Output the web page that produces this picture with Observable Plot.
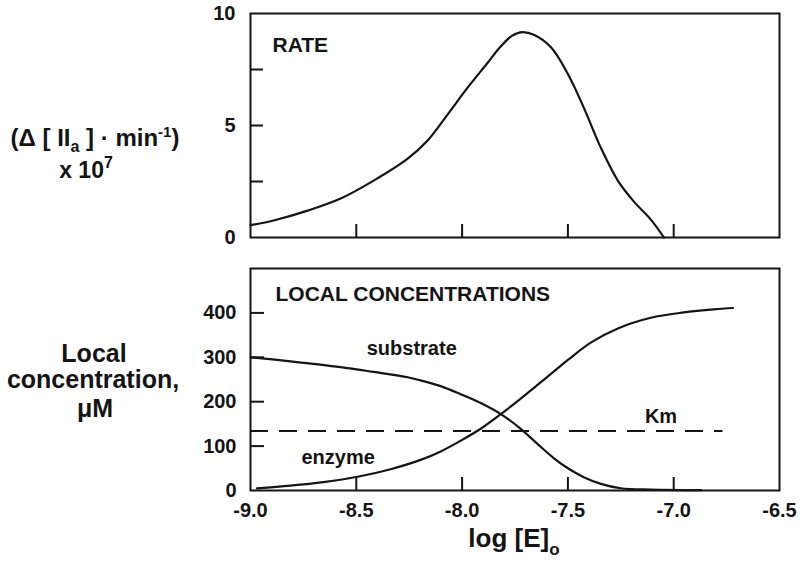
<!DOCTYPE html>
<html><head><meta charset="utf-8">
<script src="https://cdn.jsdelivr.net/npm/d3@7"></script>
<script src="https://cdn.jsdelivr.net/npm/@observablehq/plot@0.6"></script>
<style>
html,body{margin:0;padding:0;background:#fff;}
#chart{width:800px;height:566px;overflow:hidden;background:#fff}
#chart svg{display:block}
</style></head><body><div id="chart"></div>
<script>
// ---- data ----
const rateLogE  = [-9.0, -8.891, -8.730, -8.574, -8.418, -8.257, -8.163, -8.068, -7.973, -7.879, -7.820, -7.765, -7.715, -7.661, -7.581, -7.500, -7.425, -7.344, -7.264, -7.188, -7.108, -7.046];
const rateValue = [0.55, 0.76, 1.2, 1.74, 2.54, 3.52, 4.33, 5.5, 6.7, 7.8, 8.5, 9.0, 9.17, 9.05, 8.5, 7.3, 5.8, 4.0, 2.54, 1.6, 0.8, 0];

const substrateLogE  = [-9.0, -8.811, -8.574, -8.418, -8.257, -8.196, -8.101, -8.007, -7.912, -7.817, -7.723, -7.644, -7.567, -7.500, -7.425, -7.344, -7.250, -7.108, -6.871];
const substrateValue = [300, 291, 278, 267, 255, 248, 235, 217, 197, 172, 139, 105, 73, 50, 30, 15, 5, 2, 1];

const enzymeLogE  = [-8.97, -8.811, -8.655, -8.494, -8.338, -8.196, -8.101, -8.007, -7.912, -7.817, -7.723, -7.628, -7.549, -7.500, -7.392, -7.264, -7.108, -6.952, -6.810, -6.720];
const enzymeValue = [5, 11, 19, 31, 48, 69, 88, 112, 139, 172, 207, 244, 275, 294, 333, 365, 389, 401, 408, 411];

const kmValue = 134;
const kmExtent = [-9.0, -6.767];

const xTickLabels = [-9.0, -8.5, -8.0, -7.5, -7.0, -6.5];
const xInnerTicks = [-8.5, -8.0, -7.5, -7.0];
const rateTickLabels = [0, 5, 10];
const rateInnerTicks = [2.5, 5, 7.5];
const concTickLabels = [0, 100, 200, 300, 400];
const concInnerTicks = [100, 200, 300, 400];

const curveLabelText = ["substrate", "enzyme", "Km"];
const curveLabelLogE = [-8.238, -8.586, -7.06];
const curveLabelValue = [320, 75, 166];

// ---- tables ----
const rate = rateLogE.map((x, i) => ({x, y: rateValue[i]}));
const substrate = substrateLogE.map((x, i) => ({x, y: substrateValue[i]}));
const enzyme = enzymeLogE.map((x, i) => ({x, y: enzymeValue[i]}));
const curveLabels = curveLabelText.map((text, i) => ({text, x: curveLabelLogE[i], y: curveLabelValue[i]}));

const FONT = "'Liberation Sans', Arial, Helvetica, sans-serif";
const INK = "#141414";
const style = {fontFamily: FONT, fontSize: "20px", fontWeight: "bold", color: INK, background: "#fff", overflow: "visible"};

const topPlot = Plot.plot({
  width: 800, height: 250,
  marginLeft: 250, marginRight: 21, marginTop: 13, marginBottom: 13,
  x: {domain: [-9, -6.5], label: null},
  y: {domain: [0, 10], label: null},
  style,
  marks: [
    Plot.axisY(rateInnerTicks, {tickSize: -13, tickFormat: () => "", strokeWidth: 2, label: null}),
    Plot.axisY(rateTickLabels, {tickSize: 0, tickPadding: 15, label: null}),
    Plot.axisX(xInnerTicks, {tickSize: -13, tickFormat: () => "", strokeWidth: 2, label: null}),
    Plot.frame({stroke: INK, strokeWidth: 2}),
    Plot.line(rate, {x: "x", y: "y", curve: "catmull-rom", stroke: INK, strokeWidth: 2.2}),
    Plot.text(["RATE"], {frameAnchor: "top-left", dx: 22, dy: 24, textAnchor: "start", fontSize: 21, fontWeight: "bold", fill: INK})
  ]
});

const bottomPlot = Plot.plot({
  width: 800, height: 316,
  marginLeft: 250, marginRight: 21, marginTop: 18, marginBottom: 76,
  x: {domain: [-9, -6.5], label: null},
  y: {domain: [0, 500], label: null},
  style,
  marks: [
    Plot.axisY(concInnerTicks, {tickSize: -14, tickFormat: () => "", strokeWidth: 2, label: null}),
    Plot.axisY(concTickLabels, {tickSize: 0, tickPadding: 14, label: null}),
    Plot.axisX(xInnerTicks, {tickSize: -13, tickFormat: () => "", strokeWidth: 2, label: null}),
    Plot.axisX(xTickLabels, {tickSize: 0, tickPadding: 12, tickFormat: d => d.toFixed(1), label: null}),
    Plot.frame({stroke: INK, strokeWidth: 2}),
    Plot.ruleY([kmValue], {x1: kmExtent[0], x2: kmExtent[1], stroke: INK, strokeWidth: 2.2, strokeDasharray: "18,11"}),
    Plot.line(substrate, {x: "x", y: "y", curve: "catmull-rom", stroke: INK, strokeWidth: 2.2}),
    Plot.line(enzyme, {x: "x", y: "y", curve: "catmull-rom", stroke: INK, strokeWidth: 2.2}),
    Plot.text(["LOCAL CONCENTRATIONS"], {frameAnchor: "top-left", dx: 25, dy: 18, textAnchor: "start", fontSize: 21, fontWeight: "bold", fill: INK}),
    Plot.text(curveLabels, {x: "x", y: "y", text: "text", textAnchor: "middle", fontSize: 20, fontWeight: "bold", fill: INK})
  ]
});

// ---- side titles with sub/superscripts ----
function addText(svg, x, y, parts, size) {
  const t = d3.select(svg).append("text")
    .attr("x", x).attr("y", y).attr("text-anchor", "middle")
    .attr("font-family", FONT).attr("font-size", size).attr("font-weight", "bold").attr("fill", INK);
  for (const p of parts) {
    const s = t.append("tspan").text(p.t);
    if (p.dy) s.attr("dy", p.dy);
    if (p.size) s.attr("font-size", p.size);
  }
  return t;
}

addText(topPlot, 95, 146, [
  {t: "(Δ [ II"}, {t: "a", size: 16, dy: 6}, {t: " ] · min", dy: -6},
  {t: "-1", size: 15, dy: -9}, {t: ")", dy: 9}
], 24);
addText(topPlot, 86, 178, [{t: "x 10"}, {t: "7", size: 16, dy: -10}], 23);

addText(bottomPlot, 94, 112, [{t: "Local"}], 25);
addText(bottomPlot, 93, 138, [{t: "concentration,"}], 25);
addText(bottomPlot, 95, 167, [{t: "μM"}], 25);
addText(bottomPlot, 514, 297, [{t: "log [E]"}, {t: "o", size: 17, dy: 8}], 26);

const chart = document.getElementById("chart");
chart.appendChild(topPlot);
chart.appendChild(bottomPlot);
</script></body></html>
